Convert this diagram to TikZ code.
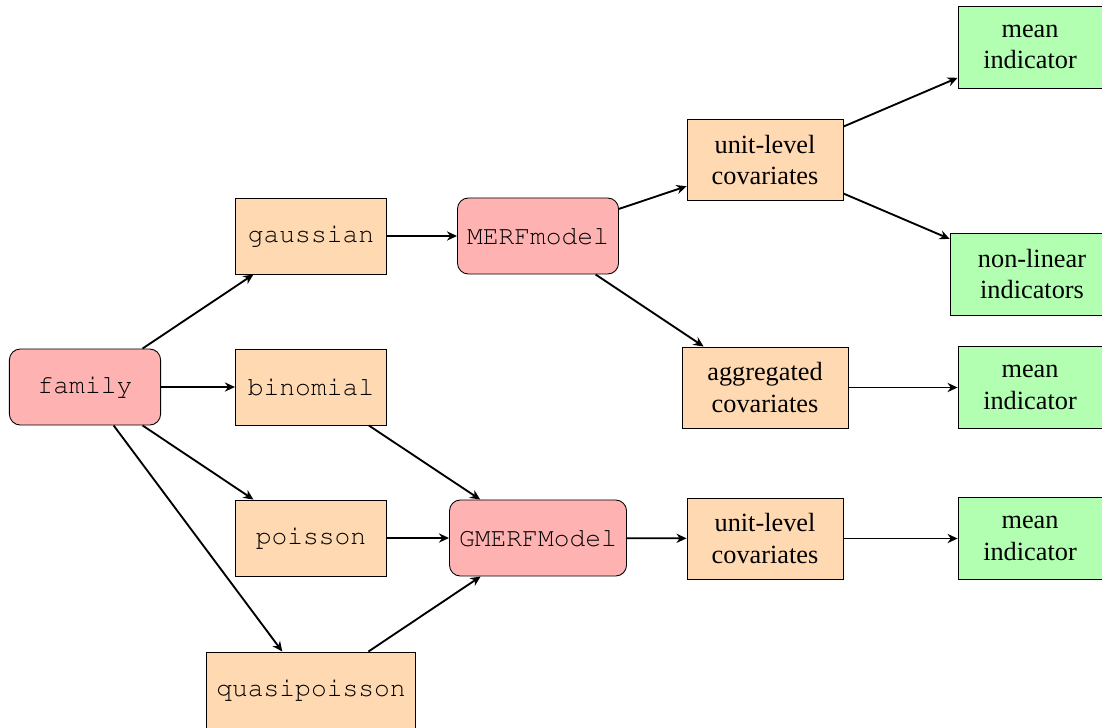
\documentclass[tikz,border=0pt]{standalone}
\usepackage{fontspec}
\setmainfont{Liberation Serif}
\usetikzlibrary{arrows.meta}
% Courier (URW) for the code names
\newcommand{\codefont}{\fontencoding{T1}\fontfamily{pcr}\selectfont}
\begin{document}
\begin{tikzpicture}[x=0.4563pt, y=-0.4563pt,
  base/.style={draw, inner sep=0pt, align=center,
    font=\fontsize{12}{14.4}\selectfont},
  fam/.style={base, fill=red!30, rounded corners=5pt, font=\codefont\fontsize{12}{14.4}\selectfont},
  dist/.style={base, fill=orange!30, font=\codefont\fontsize{12}{14.4}\selectfont},
  cov/.style={base, fill=orange!30},
  ind/.style={base, fill=green!30},
  arr/.style={-{Stealth[length=4.6pt, width=4.2pt]}, line width=0.85pt}]
\useasboundingbox (0,0) rectangle (1102,727);

% model family and distributions
\node[fam, minimum width=69pt, minimum height=34.7pt] (family) at (85,387) {family};
\node[dist, minimum width=69pt, minimum height=34.7pt] (gaussian) at (311,236) {gaussian};
\node[dist, minimum width=69pt, minimum height=34.7pt] (binomial) at (311,387) {binomial};
\node[dist, minimum width=69pt, minimum height=34.7pt] (poisson) at (311,538) {poisson};
\node[dist, minimum width=95.4pt, minimum height=34.7pt] (quasi) at (311,690) {quasipoisson};

% models
\node[fam, minimum width=73.5pt, minimum height=34.7pt] (merf) at (538,236) {MERFmodel};
\node[fam, minimum width=80.8pt, minimum height=34.7pt] (gmerf) at (538,538) {GMERFModel};

% covariates
\node[cov, minimum width=71.2pt, minimum height=37pt] (unitA) at (765,160) {unit-level\\covariates};
\node[cov, minimum width=75.7pt, minimum height=37pt] (aggr) at (765,387.5) {aggregated\\covariates};
\node[cov, minimum width=71.2pt, minimum height=37pt] (unitB) at (765,538.5) {unit-level\\covariates};

% indicators
\node[ind, minimum width=65.7pt, minimum height=37.4pt] (meanA) at (1030,47) {mean\\indicator};
\node[ind, minimum width=74.8pt, minimum height=37.4pt] (nonlin) at (1032,274) {non-linear\\indicators};
\node[ind, minimum width=65.7pt, minimum height=37.4pt] (meanB) at (1030,387.5) {mean\\indicator};
\node[ind, minimum width=65.7pt, minimum height=37.4pt] (meanC) at (1030,538.5) {mean\\indicator};

% connectors
\draw[arr] (family) -- (gaussian);
\draw[arr] (family) -- (binomial);
\draw[arr] (family) -- (poisson);
\draw[arr] (family) -- (quasi);
\draw[arr] (gaussian) -- (merf);
\draw[arr] (binomial) -- (gmerf);
\draw[arr] (poisson) -- (gmerf);
\draw[arr] (quasi) -- (gmerf);
\draw[arr] (merf) -- (unitA);
\draw[arr] (merf) -- (aggr);
\draw[arr] (gmerf) -- (unitB);
\draw[arr] (unitA) -- (meanA);
\draw[arr] (unitA) -- (nonlin);
\draw[arr] (aggr) -- (meanB);
\draw[arr] (unitB) -- (meanC);
\end{tikzpicture}
\end{document}
